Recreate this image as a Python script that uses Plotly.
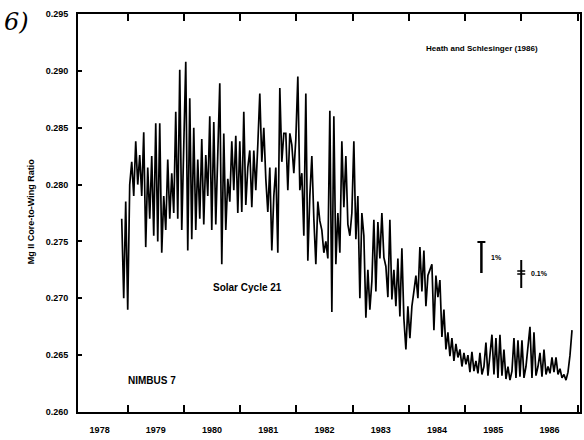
import pandas as pd
import plotly.graph_objects as go

# ---- data ----
START_DATE = "1978-11-23"
STEP_DAYS = 13
mg2_ratio = [
    # late 1978 - 1980
    0.2770, 0.2700, 0.2785, 0.2690, 0.2800, 0.2820, 0.2790, 0.2838, 0.2800, 0.2826,
    0.2790, 0.2846, 0.2745, 0.2815, 0.2770, 0.2825, 0.2755, 0.2854, 0.2750, 0.2854,
    0.2740, 0.2790, 0.2760, 0.2822, 0.2770, 0.2810, 0.2775, 0.2864, 0.2770, 0.2901,
    0.2760, 0.2830, 0.2908, 0.2742, 0.2876, 0.2752, 0.2850, 0.2760, 0.2822, 0.2770,
    0.2840, 0.2765, 0.2826, 0.2790, 0.2860, 0.2760, 0.2855, 0.2765, 0.2820, 0.2889,
    0.2730, 0.2845, 0.2760, 0.2805, 0.2785, 0.2838, 0.2795, 0.2843, 0.2775,
    # 1981 - 1983
    0.2838, 0.2776, 0.2864, 0.2782, 0.2815, 0.2830, 0.2780, 0.2830, 0.2795, 0.2835,
    0.2880, 0.2820, 0.2850, 0.2805, 0.2776, 0.2815, 0.2742, 0.2790, 0.2815, 0.2740,
    0.2885, 0.2820, 0.2845, 0.2845, 0.2795, 0.2845, 0.2835, 0.2810, 0.2840, 0.2895,
    0.2795, 0.2810, 0.2755, 0.2880, 0.2733, 0.2790, 0.2825, 0.2770, 0.2730, 0.2785,
    0.2768, 0.2760, 0.2740, 0.2750, 0.2735, 0.2865, 0.2688, 0.2860, 0.2730, 0.2775,
    0.2740, 0.2838, 0.2780, 0.2825, 0.2765, 0.2755, 0.2775, 0.2838, 0.2752, 0.2790,
    # 1983 - 1985
    0.2700, 0.2775, 0.2755, 0.2683, 0.2725, 0.2690, 0.2715, 0.2769, 0.2706, 0.2767,
    0.2735, 0.2775, 0.2736, 0.2728, 0.2701, 0.2769, 0.2699, 0.2725, 0.2693, 0.2735,
    0.2684, 0.2744, 0.2682, 0.2655, 0.2693, 0.2665, 0.2693, 0.2706, 0.2720, 0.2700,
    0.2745, 0.2706, 0.2742, 0.2693, 0.2720, 0.2725, 0.2730, 0.2672, 0.2720, 0.2701,
    0.2716, 0.2666, 0.2690, 0.2655, 0.2670, 0.2649, 0.2665, 0.2645, 0.2660, 0.2648,
    0.2655, 0.2640, 0.2652, 0.2642, 0.2650, 0.2635,
    # 1985 - 1986
    0.2653, 0.2636, 0.2645, 0.2634, 0.2652, 0.2633, 0.2640, 0.2661, 0.2632, 0.2650,
    0.2668, 0.2633, 0.2665, 0.2630, 0.2668, 0.2632, 0.2655, 0.2629, 0.2640, 0.2628,
    0.2636, 0.2665, 0.2630, 0.2663, 0.2631, 0.2663, 0.2630, 0.2640, 0.2655, 0.2675,
    0.2630, 0.2670, 0.2632, 0.2640, 0.2652, 0.2631, 0.2655, 0.2633, 0.2640, 0.2634,
    0.2648, 0.2635, 0.2648, 0.2633, 0.2638, 0.2630, 0.2633, 0.2628, 0.2635, 0.2650,
    0.2672,
]
y_ticks = [0.260, 0.265, 0.270, 0.275, 0.280, 0.285, 0.290, 0.295]
y_ticktext = ["0.260", "0.265", "0.270", "0.275", "0.280", "0.285", "0.290", "0.295"]
x_range = ["1978-02-12", "1987-01-17"]
y_range = [0.260, 0.295]

dates = pd.date_range(START_DATE, periods=len(mg2_ratio), freq=f"{STEP_DAYS}D")

# ---- geometry helpers (plot area in pixels) ----
W, H = 584, 440
L, R, T, B = 78, 2, 14, 28
PW, PH = W - L - R, H - T - B


def px(xp):
    return (xp - L) / PW


def py(yp):
    return (H - B - yp) / PH


FONT = "Liberation Sans"
fig = go.Figure()
fig.add_trace(go.Scatter(
    x=dates, y=mg2_ratio, mode="lines",
    line=dict(color="black", width=1.7),
    showlegend=False, hoverinfo="skip",
))

fig.update_layout(
    width=W, height=H,
    margin=dict(l=L, r=R, t=T, b=B),
    paper_bgcolor="white", plot_bgcolor="white",
    font=dict(family=FONT, color="black"),
    xaxis=dict(
        type="date", range=x_range, tick0="1978-01-01", dtick="M12",
        tickformat="%Y", ticklabelmode="period",
        ticks="inside", ticklen=7, tickwidth=1.5, tickcolor="black",
        showline=True, linecolor="black", linewidth=2, mirror="ticks",
        showgrid=False, zeroline=False,
        tickfont=dict(size=9, family=FONT, weight="bold"),
        ticklabelstandoff=8,
    ),
    yaxis=dict(
        range=y_range, tickvals=y_ticks, ticktext=y_ticktext,
        ticks="inside", ticklen=4, tickwidth=1.5, tickcolor="black",
        showline=True, linecolor="black", linewidth=2, mirror=True,
        showgrid=False, zeroline=False,
        tickfont=dict(size=9, family=FONT, weight="bold"),
        ticklabelstandoff=6,
    ),
)

ann = [
    dict(text="6)", x=px(16), y=py(22), font=dict(size=24, family="DejaVu Serif", style="italic")),
    dict(text="Mg II Core-to-Wing Ratio", x=px(31), y=py(212), textangle=-90,
         font=dict(size=9, family=FONT, weight="bold")),
    dict(text="Heath and Schlesinger (1986)", x=px(484), y=py(48),
         font=dict(size=8, family=FONT, weight="bold")),
    dict(text="Solar Cycle 21", x=px(248), y=py(287),
         font=dict(size=10, family=FONT, weight="bold")),
    dict(text="NIMBUS 7", x=px(152), y=py(380),
         font=dict(size=10, family=FONT, weight="bold")),
    dict(text="1%", x=px(491), y=py(257), xanchor="left",
         font=dict(size=7, family=FONT, weight="bold")),
    dict(text="0.1%", x=px(531), y=py(273), xanchor="left",
         font=dict(size=7, family=FONT, weight="bold")),
]
for a in ann:
    a.setdefault("xanchor", "center")
    fig.add_annotation(xref="paper", yref="paper", yanchor="middle", showarrow=False, **a)

# scale bars (1% and 0.1%)
shapes = [
    dict(x0=px(483), x1=px(483), y0=py(242), y1=py(273), width=2.5),
    dict(x0=px(479), x1=px(487), y0=py(242), y1=py(242), width=2),
    dict(x0=px(523), x1=px(523), y0=py(260), y1=py(288), width=2),
    dict(x0=px(519), x1=px(527), y0=py(271), y1=py(271), width=1.5),
    dict(x0=px(519), x1=px(527), y0=py(274), y1=py(274), width=1.5),
]
for s in shapes:
    w = s.pop("width")
    fig.add_shape(type="line", xref="paper", yref="paper", line=dict(color="black", width=w), **s)

fig.write_html("out.html")
